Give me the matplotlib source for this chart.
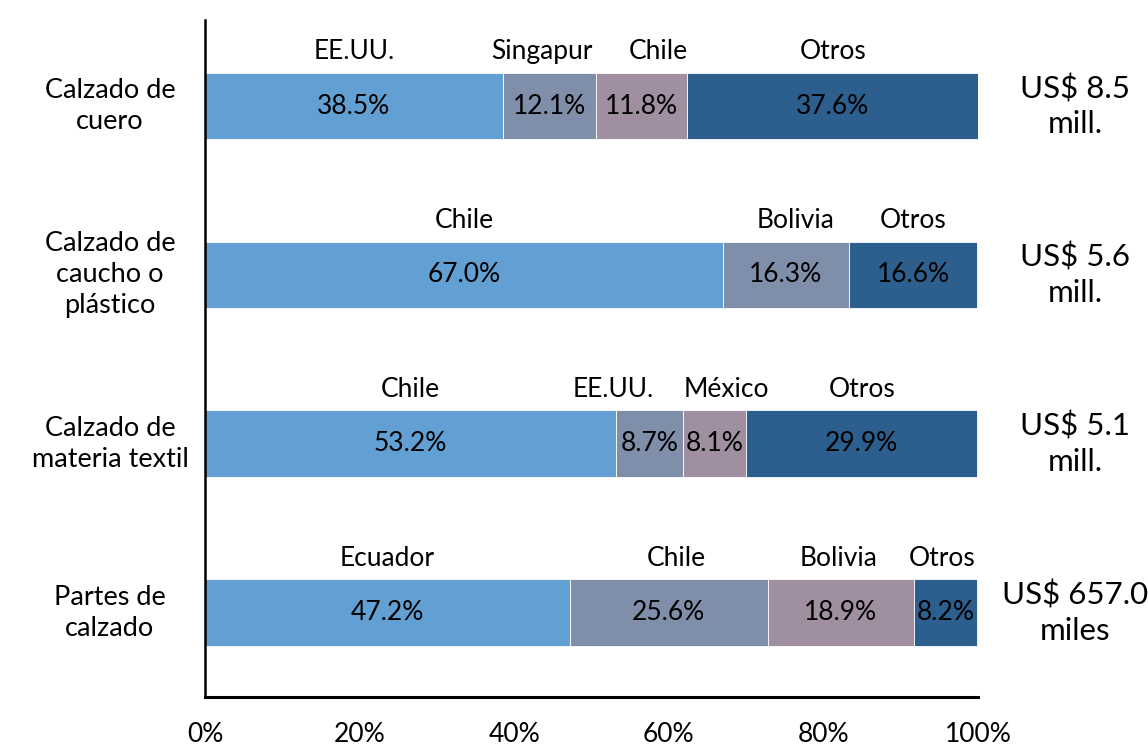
import matplotlib
matplotlib.use("Agg")
import matplotlib.pyplot as plt
from matplotlib.ticker import FuncFormatter

categories = ["Calzado de\ncuero", "Calzado de\ncaucho o\nplástico",
              "Calzado de\nmateria textil", "Partes de\ncalzado"]
totals = ["US$ 8.5\nmill.", "US$ 5.6\nmill.", "US$ 5.1\nmill.", "US$ 657.0\nmiles"]
countries = [
    ["EE.UU.", "Singapur", "Chile", "Otros"],
    ["Chile", "Bolivia", "Otros"],
    ["Chile", "EE.UU.", "México", "Otros"],
    ["Ecuador", "Chile", "Bolivia", "Otros"],
]
shares = [
    [38.5, 12.1, 11.8, 37.6],
    [67.0, 16.3, 16.6],
    [53.2, 8.7, 8.1, 29.9],
    [47.2, 25.6, 18.9, 8.2],
]
colors_4 = ["#629FD2", "#7F8FA9", "#A08FA0", "#2C5F8D"]
colors_3 = ["#629FD2", "#7F8FA9", "#2C5F8D"]
# horizontal nudges (in % units) for the country names above the bars
name_nudge = [
    [0, -1.0, 2.2, 0],
    [0, 1.2, 0],
    [0, -4.8, 1.5, 0],
    [0, 1.0, -0.3, -0.4],
]

plt.rcParams['font.family'] = ['Lato', 'DejaVu Sans']
fig = plt.figure(figsize=(11.48, 7.48), dpi=100)
ax = fig.add_axes([0.1786, 0.0682, 0.8519 - 0.1786, 0.9733 - 0.0682])

n = len(categories)
fs = 19
for i, (cat, names, vals) in enumerate(zip(categories, countries, shares)):
    y = n - 1 - i
    cols = colors_4 if len(vals) == 4 else colors_3
    left = 0.0
    for j, (name, v, c) in enumerate(zip(names, vals, cols)):
        ax.barh(y, v, left=left, height=0.394, color=c, edgecolor="white", linewidth=0.6)
        cx = left + v / 2
        ax.text(cx, y, f"{v:.1f}%", ha="center", va="center", fontsize=fs, color="black")
        ax.text(cx + name_nudge[i][j], y + 0.197 + 0.05, name, ha="center", va="bottom",
                fontsize=fs, color="black")
        left += v
    ax.text(-0.123, y, cat, transform=ax.get_yaxis_transform(), ha="center", va="center",
            fontsize=fs + 0.5, linespacing=1.3)
    ax.text(1.126, y, totals[i], transform=ax.get_yaxis_transform(), ha="center", va="center",
            fontsize=fs + 3.5, linespacing=1.3)

ax.set_xlim(0, 100)
ax.set_ylim(-0.5, n - 0.5 + 0.01)
ax.set_yticks([])
ax.set_xticks([0, 20, 40, 60, 80, 100])
ax.xaxis.set_major_formatter(FuncFormatter(lambda x, p: f"{x:.0f}%"))
ax.tick_params(axis="x", length=0, pad=18, labelsize=fs)
for s in ["top", "right"]:
    ax.spines[s].set_visible(False)
ax.spines["left"].set_linewidth(1.8)
ax.spines["bottom"].set_linewidth(2.2)

fig.savefig("out.png", dpi=100)
